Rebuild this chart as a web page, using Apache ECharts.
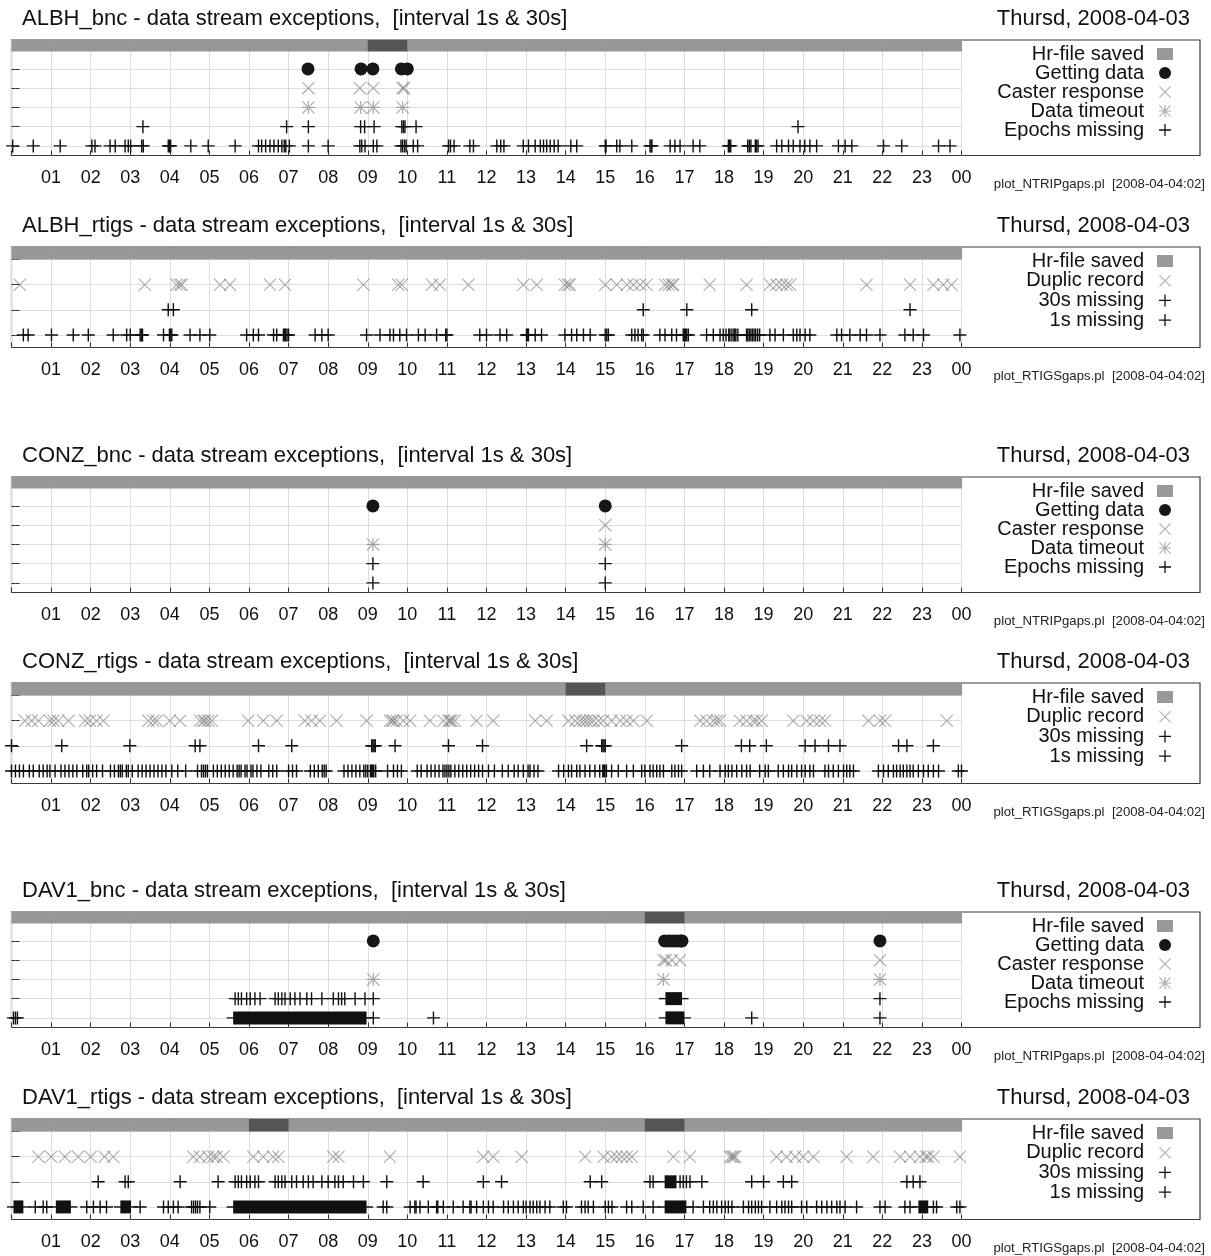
<!DOCTYPE html>
<html><head><meta charset="utf-8">
<script src="https://cdn.jsdelivr.net/npm/echarts@6/dist/echarts.min.js"></script>
<style>html,body{margin:0;padding:0;background:#fff}#c{width:1211px;height:1256px}</style>
</head><body><div id="c"></div>
<script>
// ---------- tick labels ----------
const hourLabels = ['', '01','02','03','04','05','06','07','08','09','10','11','12','13','14','15','16','17','18','19','20','21','22','23','00'];
const dateText = 'Thursd, 2008-04-03';
const footerBnc = 'plot_NTRIPgaps.pl  [2008-04-04:02]';
const footerRtigs = 'plot_RTIGSgaps.pl  [2008-04-04:02]';
const bncLegend = ['Hr-file saved', 'Getting data', 'Caster response', 'Data timeout', 'Epochs missing'];
const rtigsLegend = ['Hr-file saved', 'Duplic record', '30s missing', '1s missing'];

// ---------- ALBH_bnc ----------
const albhBncHr = [0,0,0,0,0,0,0,0,0,1,0,0,0,0,0,0,0,0,0,0,0,0,0,0];
const albhBncGetting = [7.49, 8.83, 9.13, 9.85, 10.0];
const albhBncCaster = [7.5, 8.8, 9.14, 9.88, 9.92];
const albhBncTimeout = [7.5, 8.82, 9.14, 9.88];
const albhBnc30s = [3.32, 6.95, 7.5, 8.82, 8.92, 9.16, 9.86, 9.9, 9.94, 10.22, 19.87];
const albhBnc1s = [0.03, 0.55, 1.23, 2.03, 2.11, 2.49, 2.62, 2.87, 2.95, 3.01, 3.29, 3.33, 3.96, 3.99, 4.02, 4.53, 4.97, 5.65,
  6.24, 6.32, 6.42, 6.53, 6.63, 6.74, 6.83, 6.89, 6.93, 7.02, 7.5, 8.0, 8.8, 8.85, 8.93, 9.14, 9.23, 9.84, 9.88, 9.93, 9.97,
  10.15, 10.26, 11.04, 11.09, 11.18, 11.58, 11.67, 12.26, 12.36, 12.44, 12.93, 13.06, 13.23, 13.36, 13.44, 13.52, 13.61, 13.71, 13.81,
  14.13, 14.28, 15.0, 15.02, 15.29, 15.37, 15.67, 16.13, 16.16, 16.18, 16.64, 16.76, 16.89, 17.22, 17.39, 18.11, 18.14, 18.17,
  18.6, 18.64, 18.68, 18.79, 18.82, 18.86, 19.33, 19.46, 19.63, 19.75, 19.92, 20.04, 20.17, 20.34, 20.89, 21.06, 21.23,
  22.03, 22.49, 23.42, 23.71];

// ---------- ALBH_rtigs ----------
const albhRtigsHr = [0,0,0,0,0,0,0,0,0,0,0,0,0,0,0,0,0,0,0,0,0,0,0,0];
const albhRtigsDup = [0.21, 3.37, 4.17, 4.25, 4.3, 5.27, 5.52, 6.53, 6.91, 8.89, 9.77, 9.86, 10.62, 10.82, 11.54, 12.93, 13.27,
  13.98, 14.06, 14.11, 15.0, 15.29, 15.55, 15.71, 15.88, 16.04, 16.51, 16.6, 16.68, 16.72, 17.64, 18.57, 19.16, 19.33, 19.46,
  19.58, 19.67, 21.6, 22.7, 23.29, 23.54, 23.75];
const albhRtigs30s = [3.96, 4.09, 15.96, 17.06, 18.7, 22.7];
const albhRtigs1s = [0.30, 0.42, 1.01, 1.56, 1.94, 2.57, 2.91, 3.0, 3.25, 3.28, 3.31, 3.84, 3.99, 4.02, 4.05, 4.51, 4.76, 5.01,
  5.94, 6.11, 6.24, 6.62, 6.70, 6.87, 6.9, 6.93, 6.96, 7.0, 7.67, 7.84, 8.0, 8.97, 9.31, 9.56, 9.65, 9.81, 9.98, 10.28, 10.45,
  10.74, 10.97, 11.0, 11.83, 12.0, 12.34, 12.51, 13.01, 13.04, 13.06, 13.23, 13.39, 13.98, 14.15, 14.28, 14.45, 14.62, 15.0,
  15.04, 15.08, 15.67, 15.75, 15.83, 15.92, 15.96, 16.38, 16.51, 16.68, 16.8, 16.97, 17.0, 17.03, 17.06, 17.1, 17.56, 17.73,
  17.9, 17.98, 18.05, 18.12, 18.15, 18.2, 18.25, 18.27, 18.3, 18.35, 18.57, 18.6, 18.64, 18.68, 18.72, 18.76, 18.8, 18.85, 18.9,
  19.16, 19.29, 19.5, 19.75, 19.84, 19.92, 20.05, 20.17, 20.85, 20.97, 21.18, 21.44, 21.6, 21.94, 22.57, 22.78, 23.04, 23.96];

// ---------- CONZ_bnc ----------
const conzBncHr = [0,0,0,0,0,0,0,0,0,0,0,0,0,0,0,0,0,0,0,0,0,0,0,0];
const conzBncGetting = [9.13, 15.0];
const conzBncCaster = [15.0];
const conzBncTimeout = [9.13, 15.0];
const conzBnc30s = [9.13, 15.0];
const conzBnc1s = [9.13, 15.0];

// ---------- CONZ_rtigs ----------
const conzRtigsHr = [0,0,0,0,0,0,0,0,0,0,0,0,0,0,1,0,0,0,0,0,0,0,0,0];
const conzRtigsDup = [0.34, 0.51, 0.68, 0.97, 1.06, 1.18, 1.44, 1.86, 1.98, 2.15, 2.32, 3.46, 3.58, 3.67, 4.0, 4.26, 4.76, 4.84,
  4.89, 4.97, 5.06, 5.98, 6.36, 6.7, 7.41, 7.58, 7.79, 8.21, 8.97, 9.56, 9.62, 9.65, 9.73, 9.9, 10.07, 10.57, 10.91, 11.04,
  11.08, 11.12, 11.2, 11.75, 12.17, 13.23, 13.52, 14.07, 14.24, 14.36, 14.45, 14.53, 14.62, 14.7, 14.83, 14.95, 15.16, 15.38,
  15.54, 15.71, 16.05, 17.4, 17.56, 17.73, 17.82, 17.9, 18.4, 18.57, 18.74, 18.82, 18.95, 19.75, 20.09, 20.26, 20.42, 20.55,
  21.65, 21.94, 22.07, 23.63];
const conzRtigs30s = [0.0, 1.27, 2.99, 4.64, 4.76, 6.24, 7.08, 9.1, 9.13, 9.16, 9.19, 9.69, 11.04, 11.9, 14.53, 14.91, 14.94,
  14.97, 15.0, 16.93, 18.44, 18.65, 19.07, 20.05, 20.3, 20.64, 20.93, 22.41, 22.62, 23.29];
const conzRtigs1s = [0.0, 0.1, 0.2, 0.3, 0.45, 0.55, 0.7, 0.8, 0.9, 0.97, 1.1, 1.25, 1.35, 1.45, 1.55, 1.65, 1.8, 1.9, 1.95,
  2.05, 2.15, 2.3, 2.5, 2.6, 2.7, 2.75, 2.8, 2.9, 2.95, 3.05, 3.2, 3.3, 3.4, 3.5, 3.6, 3.7, 3.8, 3.9, 4.05, 4.2, 4.4, 4.7, 4.8,
  4.85, 4.9, 4.95, 5.1, 5.2, 5.3, 5.4, 5.5, 5.6, 5.7, 5.75, 5.8, 5.9, 5.95, 6.05, 6.1, 6.2, 6.3, 6.5, 6.6, 6.7, 7.0, 7.1, 7.2,
  7.55, 7.65, 7.75, 7.85, 7.9, 7.95, 8.4, 8.5, 8.6, 8.7, 8.8, 8.9, 8.95, 9.0, 9.2, 9.5, 9.65, 9.75, 9.85, 10.25, 10.35,
  10.5, 10.6, 10.7, 10.8, 10.9, 10.95, 11.0, 11.05, 11.1, 11.2, 11.3, 11.4, 11.5, 11.6, 11.7, 11.8, 11.9, 12.05, 12.2, 12.4,
  12.55, 12.7, 12.8, 12.93, 13.05, 13.1, 13.2, 13.3, 13.82, 13.95, 14.07, 14.15, 14.28, 14.36, 14.49, 14.61, 14.74, 14.86,
  15.03, 15.16, 15.33, 15.54, 15.71, 15.92, 16.0, 16.13, 16.21, 16.3, 16.38, 16.47, 16.68, 16.76, 16.85, 16.93, 17.31, 17.48,
  17.64, 17.9, 18.03, 18.11, 18.2, 18.32, 18.45, 18.57, 18.66, 18.9, 19.04, 19.12, 19.37, 19.5, 19.63, 19.71, 19.84, 19.96,
  20.05, 20.17, 20.26, 20.55, 20.64, 20.76, 20.89, 21.02, 21.1, 21.18, 21.27, 21.9, 22.03, 22.15, 22.28, 22.36, 22.45, 22.53,
  22.62, 22.7, 22.78, 22.91, 23.04, 23.16, 23.29, 23.42, 23.92, 24.0];
const conzRtigs1sDense = [[9.05, 9.17], [14.92, 15.01]];

// ---------- DAV1_bnc ----------
const dav1BncHr = [0,0,0,0,0,0,0,0,0,0,0,0,0,0,0,0,1,0,0,0,0,0,0,0];
const dav1BncGetting = [9.14, 16.5, 16.6, 16.7, 16.8, 16.9, 16.94, 21.94];
const dav1BncCaster = [16.47, 16.53, 16.68, 16.89, 21.94];
const dav1BncTimeout = [9.14, 16.47, 21.94];
const dav1Bnc30s = [5.65, 5.73, 5.81, 5.94, 6.03, 6.15, 6.28, 6.66, 6.74, 6.83, 6.91, 7.04, 7.16, 7.29, 7.46, 7.58, 7.84,
  8.13, 8.26, 8.34, 8.42, 8.68, 8.93, 9.14, 21.94];
const dav1Bnc30sDense = [[16.52, 16.94]];
const dav1Bnc1s = [0.05, 0.1, 0.15, 9.14, 10.66, 18.7, 21.94];
const dav1Bnc1sDense = [[5.6, 8.97], [16.52, 17.0]];

// ---------- DAV1_rtigs ----------
const dav1RtigsHr = [0,0,0,0,0,0,1,0,0,0,0,0,0,0,0,0,1,0,0,0,0,0,0,0];
const dav1RtigsDup = [0.68, 1.0, 1.35, 1.68, 2.0, 2.35, 2.57, 4.59, 4.76, 4.97, 5.1, 5.18, 5.35, 6.11, 6.36, 6.61, 6.74,
  8.13, 8.26, 9.56, 11.92, 12.17, 12.89, 14.49, 14.96, 15.16, 15.29, 15.42, 15.54, 15.67, 16.72, 17.14, 18.15, 18.2, 18.24,
  18.28, 19.33, 19.58, 19.8, 20.0, 20.26, 21.1, 21.77, 22.45, 22.7, 22.95, 23.1, 23.16, 23.29, 23.96];
const dav1Rtigs30s = [2.19, 2.87, 2.95, 4.26, 5.22, 5.65, 5.73, 5.81, 5.94, 6.03, 6.15, 6.24, 6.66, 6.74, 6.83, 6.91, 7.08,
  7.2, 7.37, 7.5, 7.62, 7.84, 8.0, 8.17, 8.26, 8.38, 8.64, 8.89, 9.48, 10.4, 11.92, 12.38, 14.62, 14.91, 16.13, 16.21, 16.89,
  16.97, 17.05, 17.14, 17.44, 18.7, 19.0, 19.5, 19.71, 22.62, 22.78, 22.95];
const dav1Rtigs30sDense = [[16.5, 16.8]];
const dav1Rtigs1s = [0.6, 0.8, 0.89, 1.9, 2.07, 2.24, 2.4, 3.25, 3.84, 3.96, 4.09, 4.21, 4.55, 4.6, 4.65, 4.7, 4.76, 5.01,
  9.39, 9.48, 10.07, 10.19, 10.22, 10.32, 10.53, 10.74, 10.77, 10.91, 11.16, 11.41, 11.58, 11.61, 11.75, 11.92, 12.05, 12.17,
  12.43, 12.55, 12.68, 12.8, 12.93, 13.0, 13.1, 13.18, 13.27, 13.35, 13.48, 13.6, 13.94, 14.02, 14.4, 14.49, 14.57, 14.7,
  15.0, 15.08, 15.17, 15.54, 15.67, 15.96, 16.21, 17.22, 17.48, 17.64, 17.73, 17.82, 17.94, 18.03, 18.11, 18.2, 18.49, 18.62,
  18.7, 18.79, 18.87, 18.95, 19.16, 19.33, 19.46, 19.54, 19.63, 19.71, 19.96, 20.09, 20.34, 20.47, 20.6, 20.72, 20.85, 20.93,
  21.06, 21.35, 21.94, 22.07, 22.57, 22.7, 23.29, 23.37, 23.88, 23.96];
const dav1Rtigs1sDense = [[0.05, 0.3], [1.12, 1.5], [2.75, 3.02], [5.6, 8.97], [16.5, 17.05], [22.91, 23.16]];

// ---------- layout / style ----------
const FONT = "'Liberation Sans', Arial, Helvetica, sans-serif";
const SYM_PLUS = 'path://M0,5.35H12V6.65H0Z M5.35,0H6.65V12H5.35Z';
const SYM_X = 'path://M0,0.75L0.75,0L12,11.25L11.25,12Z M11.25,0L12,0.75L0.75,12L0,11.25Z';
const SYM_STAR = 'path://M0,0.75L0.75,0L12,11.25L11.25,12Z M11.25,0L12,0.75L0.75,12L0,11.25Z M0,5.4H12V6.6H0Z M5.4,0H6.6V12H5.4Z';
const C_PLUS = '#111', C_DOT = '#161616', C_X = 'rgba(105,105,105,0.55)', C_STAR = 'rgba(120,120,120,0.6)';
const GRID_LEFT = 11.5, DATA_W = 950, FRAME_W = 1188.5;

const panels = [
  {kind:'bnc', top:40, name:'ALBH_bnc', hr:albhBncHr,
   rows:[['Getting data', albhBncGetting, 4.5], ['Caster response', albhBncCaster, 3.5], ['Data timeout', albhBncTimeout, 2.5],
         ['Epochs missing', albhBnc30s, 1.5], ['Epochs missing', albhBnc1s, 0.5]], dense:[]},
  {kind:'rtigs', top:247, name:'ALBH_rtigs', hr:albhRtigsHr,
   rows:[['Duplic record', albhRtigsDup, 2.5], ['30s missing', albhRtigs30s, 1.5], ['1s missing', albhRtigs1s, 0.5]], dense:[]},
  {kind:'bnc', top:477, name:'CONZ_bnc', hr:conzBncHr,
   rows:[['Getting data', conzBncGetting, 4.5], ['Caster response', conzBncCaster, 3.5], ['Data timeout', conzBncTimeout, 2.5],
         ['Epochs missing', conzBnc30s, 1.5], ['Epochs missing', conzBnc1s, 0.5]], dense:[]},
  {kind:'rtigs', top:683, name:'CONZ_rtigs', hr:conzRtigsHr,
   rows:[['Duplic record', conzRtigsDup, 2.5], ['30s missing', conzRtigs30s, 1.5], ['1s missing', conzRtigs1s, 0.5]],
   dense:[[conzRtigs1sDense, 0.5]]},
  {kind:'bnc', top:912, name:'DAV1_bnc', hr:dav1BncHr,
   rows:[['Getting data', dav1BncGetting, 4.5], ['Caster response', dav1BncCaster, 3.5], ['Data timeout', dav1BncTimeout, 2.5],
         ['Epochs missing', dav1Bnc30s, 1.5], ['Epochs missing', dav1Bnc1s, 0.5]],
   dense:[[dav1Bnc30sDense, 1.5], [dav1Bnc1sDense, 0.5]]},
  {kind:'rtigs', top:1119, name:'DAV1_rtigs', hr:dav1RtigsHr,
   rows:[['Duplic record', dav1RtigsDup, 2.5], ['30s missing', dav1Rtigs30s, 1.5], ['1s missing', dav1Rtigs1s, 0.5]],
   dense:[[dav1Rtigs30sDense, 1.5], [dav1Rtigs1sDense, 0.5]]}
];

const symFor = {
  'Getting data': [ 'circle', C_DOT, 13 ],
  'Caster response': [ SYM_X, C_X, 13 ],
  'Data timeout': [ SYM_STAR, C_STAR, 13 ],
  'Epochs missing': [ SYM_PLUS, C_PLUS, 13 ],
  'Duplic record': [ SYM_X, C_X, 13 ],
  '30s missing': [ SYM_PLUS, C_PLUS, 13 ],
  '1s missing': [ SYM_PLUS, C_PLUS, 13 ]
};

const option = { animation:false, backgroundColor:'#fff', grid:[], xAxis:[], yAxis:[], series:[], title:[], legend:[] };

panels.forEach((p, i) => {
  const bnc = p.kind === 'bnc';
  const h = bnc ? 115.5 : 100.5;
  const ymax = bnc ? 6 : 4;
  const barLo = bnc ? 5.4 : 3.5;
  const gi = 2 * i, fi = 2 * i + 1;
  const bottom = p.top + h;

  option.grid.push({ left: GRID_LEFT, top: p.top, width: DATA_W, height: h, outerBoundsMode: 'none' });
  option.grid.push({ left: GRID_LEFT, top: p.top, width: FRAME_W, height: h, show: true, borderColor: '#3a3a3a', borderWidth: 1.2,
                     backgroundColor: 'transparent', outerBoundsMode: 'none' });

  option.xAxis.push({ type:'value', gridIndex: gi, min:0, max:24, interval:1,
    axisLine:{show:false}, axisTick:{show:true, inside:true, length:5, lineStyle:{color:'#333', width:1}},
    splitLine:{show:true, lineStyle:{color:'#dedede', width:1}},
    axisLabel:{show:true, margin:14, fontSize:18, color:'#111', fontFamily:FONT, showMinLabel:true, showMaxLabel:true,
               hideOverlap:false, formatter: v => hourLabels[Math.round(v)] || ''} });
  option.xAxis.push({ type:'value', gridIndex: fi, min:0, max:1, show:false });

  // row ticks: axis shifted 4px into the frame so the outward minor ticks end on the frame edge
  option.yAxis.push({ type:'value', gridIndex: gi, min:0, max:ymax, interval:1, offset:-4,
    axisLine:{show:false}, axisLabel:{show:false}, axisTick:{show:false},
    splitLine:{show:false},
    minorTick:{show:true, splitNumber:2, length:4, lineStyle:{color:'#333', width:1}},
    minorSplitLine:{show:true, lineStyle:{color:'#dedede', width:1}} });
  option.yAxis.push({ type:'value', gridIndex: fi, position:'right', min:0, max:ymax, interval:1, offset:-4,
    axisLine:{show:false}, axisLabel:{show:false}, axisTick:{show:false},
    splitLine:{show:false},
    minorTick:{show:true, splitNumber:2, length:4, lineStyle:{color:'#333', width:1}},
    minorSplitLine:{show:false} });

  // Hr-file saved bar
  option.series.push({ type:'custom', name:'Hr-file saved', xAxisIndex: gi, yAxisIndex: gi, silent:true, z:2,
    itemStyle:{color:'#999'}, clip:false,
    data: p.hr.map((s, hh) => [hh, s]),
    encode:{x:0, y:1},
    renderItem: (params, api) => {
      const hh = api.value(0), st = api.value(1);
      const a = api.coord([hh, barLo]), b = api.coord([hh + 1, ymax]);
      return { type:'rect', shape:{ x:a[0], y:b[1], width:(b[0]-a[0]) + 0.6, height:a[1]-b[1] },
               style:{ fill: st ? '#555' : '#979797' } };
    } });

  // event rows
  p.rows.forEach(([name, arr, y]) => {
    const [sym, col, sz] = symFor[name];
    option.series.push({ type:'scatter', name, xAxisIndex: gi, yAxisIndex: gi, silent:true, clip:false, z:3,
      symbol: sym, symbolSize: sz, symbolKeepAspect:true, itemStyle:{color: col, opacity: 1},
      data: arr.map(t => [t, y]) });
  });

  // dense stretches of merged "+" marks
  p.dense.forEach(([ranges, y]) => {
    option.series.push({ type:'custom', name:'dense', xAxisIndex: gi, yAxisIndex: gi, silent:true, z:3, clip:false,
      data: ranges.map(r => [r[0], r[1], y]), encode:{x:[0,1], y:2},
      renderItem: (params, api) => {
        const s = api.coord([api.value(0), api.value(2)]);
        const e = api.coord([api.value(1), api.value(2)]);
        const hf = 6.5;
        return { type:'group', children:[
          { type:'rect', shape:{ x:s[0], y:s[1]-hf, width:Math.max(1, e[0]-s[0]), height:2*hf }, style:{ fill:'#111' } },
          { type:'rect', shape:{ x:s[0]-hf, y:s[1]-0.7, width:Math.max(1, e[0]-s[0]) + 2*hf, height:1.4 }, style:{ fill:'#111' } }
        ]};
      } });
  });

  // texts
  const titleTop = p.top - 32;
  option.title.push({ text: p.name + ' - data stream exceptions,  [interval 1s & 30s]', left: 22, top: titleTop, padding:0,
    textStyle:{ fontSize:22, lineHeight:22, fontWeight:'normal', color:'#111', fontFamily:FONT } });
  option.title.push({ text: dateText, right: 21, top: titleTop, padding:0,
    textStyle:{ fontSize:22, lineHeight:22, fontWeight:'normal', color:'#111', fontFamily:FONT } });
  option.title.push({ text: bnc ? footerBnc : footerRtigs, right: 6, top: bottom + 22, padding:0,
    textStyle:{ fontSize:13.2, lineHeight:13, fontWeight:'normal', color:'#222', fontFamily:FONT } });

  // legend
  const names = bnc ? bncLegend : rtigsLegend;
  option.legend.push({ orient:'vertical', align:'right', right: 38, top: p.top + 4, padding:0,
    itemWidth:16, itemHeight:12, itemGap: bnc ? -1 : -0.3, selectedMode:false,
    data: names.map(n => n === 'Hr-file saved' ? { name:n, icon:'rect' } : { name:n }),
    textStyle:{ fontSize:20, lineHeight:19, color:'#111', fontFamily:FONT, padding:[0, 8, 0, 0] } });
});

const chart = echarts.init(document.getElementById('c'), null, { renderer:'canvas', width:1211, height:1256 });
chart.setOption(option);
</script>
</body></html>
